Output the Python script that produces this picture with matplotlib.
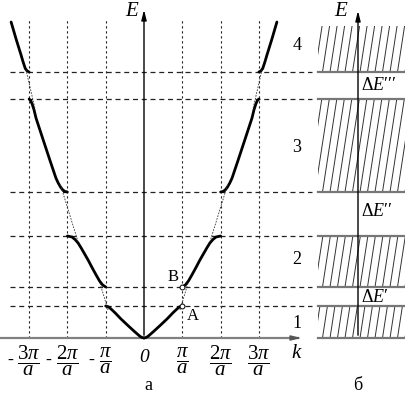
import numpy as np
import matplotlib
matplotlib.use("Agg")
import matplotlib.pyplot as plt
from matplotlib.patches import Rectangle

plt.rcParams["font.family"] = ["Liberation Serif", "DejaVu Serif"]
plt.rcParams["mathtext.fontset"] = "custom"
plt.rcParams["mathtext.rm"] = "Liberation Serif"
plt.rcParams["mathtext.it"] = "Liberation Serif:italic"

# band edges (energy, arbitrary units) and gap labels
levels = [32, 51, 102, 146, 239, 266]
band_ranges = [(0, 32), (51, 102), (146, 239), (266, 313)]
band_names = ["1", "2", "3", "4"]
gap_names = ["Δ$E$\u2032", "Δ$E$\u2032\u2032", "Δ$E$\u2032\u2032\u2032"]

# allowed-band branches, k in units of pi/a (right half, mirrored)
band1_k = [0.0, 0.05, 0.1, 0.16, 0.25, 0.42, 0.6, 0.75, 0.86, 0.93, 1.0]
band1_E = [0, 0.5, 1.5, 3.5, 6.5, 12.5, 19, 25, 29, 31.2, 32]
band2_k = [1.0, 1.08, 1.16, 1.25, 1.35, 1.46, 1.55, 1.64, 1.72, 1.8, 1.88, 2.0]
band2_E = [51, 53, 57, 63, 70, 78, 84, 90, 95, 98.5, 101, 102]
band3_k = [2.0, 2.06, 2.12, 2.18, 2.24, 2.30, 2.45, 2.64, 2.82, 2.87, 2.92,
           2.96, 3.0]
band3_E = [146, 146.5, 148, 151, 155, 160, 177, 199, 220, 228, 234, 237.5, 239]
band4_k = [3.0, 3.05, 3.1, 3.16, 3.21, 3.34, 3.47]
band4_E = [266, 267, 269.5, 276.5, 283, 299, 316]

# free-electron parabola pieces drawn through the gaps
free_k = [[0.94, 1.15], [1.72, 2.18], [2.85, 3.08]]
free_E = [[28, 55], [96, 153], [230, 268]]

tick_k = [-3, -2, -1, 0, 1, 2, 3]
tick_num = [r"3\pi", r"2\pi", r"\pi", "0", r"\pi", r"2\pi", r"3\pi"]

S = 38.3          # pixels per pi/a
X0, Y0 = 144, 338  # origin in pixels


def kx(x):
    return (x - X0) / S


def ey(y):
    return Y0 - y


fig = plt.figure(figsize=(4.05, 3.96), dpi=100)
ax = fig.add_axes([0, 0, 1, 1])
ax.set_xlim(kx(0), kx(405))
ax.set_ylim(ey(396), ey(0))
ax.axis("off")

# grid
for k in [-3, -2, -1, 1, 2, 3]:
    ax.plot([k, k], [0, ey(20)], color="#222222", lw=0.8, dashes=(2, 2.5))
for E in levels:
    ax.plot([kx(10), kx(312)], [E, E], color="#222222", lw=0.9, dashes=(4, 3))

# axes of panel a
ax.plot([kx(0), kx(298)], [0, 0], color="#808080", lw=1.6)
ax.annotate("", xy=(kx(304), 0), xytext=(kx(294), 0),
            arrowprops=dict(arrowstyle="-|>,head_length=0.6,head_width=0.15",
                            color="#555555", lw=1))
ax.annotate("", xy=(0, ey(7)), xytext=(0, 0),
            arrowprops=dict(arrowstyle="-|>,head_length=0.6,head_width=0.15",
                            color="black", lw=1))

# bands
for bk, bE in [(band1_k, band1_E), (band2_k, band2_E),
               (band3_k, band3_E), (band4_k, band4_E)]:
    bk = np.array(bk)
    for sgn in (1, -1):
        ax.plot(sgn * bk, bE, color="black", lw=2, solid_capstyle="round",
                solid_joinstyle="round")
for fk, fE in zip(free_k, free_E):
    fk = np.array(fk)
    ax.plot(fk, fE, color="#333333", lw=0.6, dashes=(2, 1.5))
    ax.plot(-fk, fE, color="#333333", lw=0.6, dashes=(2, 1.5))

# points A and B
for E in levels[:2]:
    ax.plot([1], [E], marker="o", ms=3.5, mfc="white", mec="black", mew=0.7)
ax.text(kx(193), ey(316), "A", fontsize=12, ha="center", va="center")
ax.text(kx(173), ey(277), "B", fontsize=12, ha="center", va="center")

# tick labels
for k, num in zip(tick_k, tick_num):
    if k == 0:
        ax.text(k, ey(357), "0", fontsize=14, style="italic", ha="center",
                va="center")
        continue
    ax.text(k, ey(361), r"$\dfrac{%s}{a}$" % num, fontsize=15,
            ha="center", va="center")
    if k < 0:
        off = 19 if k < -1 else 14
        ax.text(k - off / S, ey(360), "-", fontsize=13, ha="center",
                va="center")
ax.text(kx(297), ey(353), "$k$", fontsize=15, ha="center", va="center")
ax.text(kx(132), ey(12), "$E$", fontsize=15, ha="center", va="center")
ax.text(kx(148), ey(386), "а", fontsize=13, ha="center", va="center")

# panel б
xr0, xr1 = kx(318), kx(405)
for E in levels:
    ax.plot([xr0, xr1], [E, E], color="#777777", lw=1.6)
ax.plot([xr0, xr1], [0, 0], color="#777777", lw=1.6)
ax.annotate("", xy=(kx(358), ey(8)), xytext=(kx(358), 0),
            arrowprops=dict(arrowstyle="-|>,head_length=0.6,head_width=0.15",
                            color="black", lw=1))
ax.text(kx(341), ey(12), "$E$", fontsize=15, ha="center", va="center")
ax.text(kx(358), ey(385), "б", fontsize=13, ha="center", va="center")

label_y = [323, 260, 147, 45]
for (lo, hi), name, y in zip(band_ranges, band_names, label_y):
    clip = Rectangle((xr0, lo + 1), xr1 - xr0, hi - lo - 2,
                     transform=ax.transData, fill=False, lw=0)
    ax.add_patch(clip)
    h = hi - lo
    for x in np.arange(300, 420, 7.5):
        ln, = ax.plot([kx(x), kx(x + h / 6.5)], [lo, hi], color="#333333",
                      lw=0.7)
        ln.set_clip_path(clip)
    ax.text(kx(297), ey(y), name, fontsize=13, ha="center", va="center")

gap_y = [297, 212, 85]
for name, y in zip(gap_names, gap_y):
    ax.text(kx(361), ey(y), name, fontsize=13, ha="left", va="center")

fig.savefig("out.png", dpi=100)
